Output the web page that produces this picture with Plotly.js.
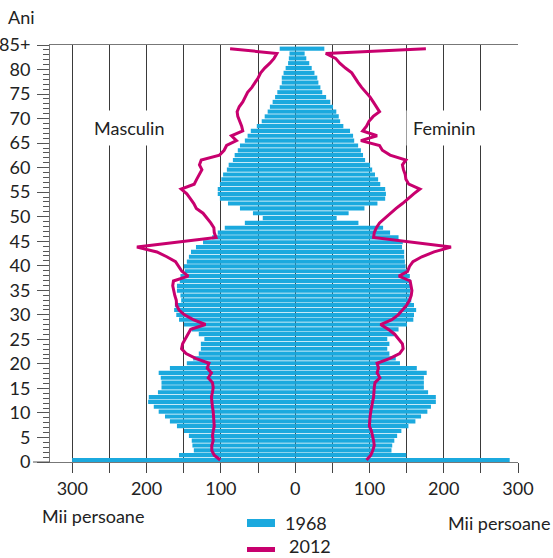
<!DOCTYPE html>
<html>
<head>
<meta charset="utf-8">
<script src="https://cdn.plot.ly/plotly-3.0.1.min.js"></script>
<style>html,body{margin:0;padding:0;background:#fff;}#chart{width:553px;height:558px;}</style>
</head>
<body>
<div id="chart"></div>
<script>
// Ages 0..85 (85 = 85+)
const ages = Array.from({length: 86}, (_, i) => i);
const ageTickLabels = ['0','5','10','15','20','25','30','35','40','45','50','55','60','65','70','75','80','85+'];
const ageTickAges = [0,5,10,15,20,25,30,35,40,45,50,55,60,65,70,75,80,85];

// 1968, thousands of persons
const male1968 = [300.2,156.3,136.4,138.3,139.2,143,149.6,159.1,168.6,175.2,
  183.7,190.3,197.9,197,184.7,179.9,179.9,180.9,183.7,168.6,
  145.8,137.3,129.7,126.9,126.9,122.2,129.7,139.2,149.6,156.3,
  160,162.9,161.9,153.4,154.4,159.1,159.1,155.3,154.4,148.7,
  149.6,145.8,143,140.2,133.5,124,111.7,104.2,94.7,67.7,
  43.6,56.8,74.3,90.4,101.3,104.2,104.2,101.3,99.4,97,
  91.9,89.5,83.8,81.4,77.2,74.3,67.7,64,59.7,51.6,
  45,41,37,34,30.3,27,24,20.8,18,18,
  15.6,12.8,9.5,8.5,7.6,20.8];
const female1968 = [288.8,149.6,129.7,130.7,133.5,137.3,143,152.5,161.9,169.5,
  178,182.8,189.4,189.4,179,173.3,173.3,173.3,177.1,163.8,
  141.1,135.4,126.9,124,126.9,124,133.5,139.2,150.6,159.1,
  160,162.9,160,156.3,154.4,155.3,156.3,155.3,154.4,152.5,
  148.7,147.7,146.8,146.8,143.9,144.9,139.2,127.8,118.4,85.2,
  55.9,72,93.3,110.8,121.2,122.2,121.2,114.6,111.7,107.5,
  103.7,100.9,94.2,91.4,88.5,84.8,79.5,78,73.9,64.9,
  60.6,58.7,55.4,51,47.3,41.7,36.5,34,31.3,29.8,
  26,22.3,19,15,12.8,39.3];

// 2012, thousands of persons
const male2012 = [100.9,108.9,112.2,112.2,110.3,111.3,110.3,108.9,109.4,109.4,
  110.3,111.3,112.2,112.7,111.3,110.3,111.3,117,112.7,118.4,
  116,134,146.8,152.9,151.5,148.2,144.4,140.6,120.7,137.3,
  149,156.3,159.6,160,162,163.4,164.8,163.8,143.9,152.5,
  156.3,161,172.8,186,213,161,106.5,108.9,109.4,113.6,
  119.3,124,133,136.4,141.1,145.8,153.4,135.9,132.6,128.8,
  125.5,128.8,126.4,101.8,95.6,92.3,79,85.7,70.5,72,
  74.3,77.2,78.1,75.3,70.5,67.2,64,58.2,53.5,49.7,
  46.4,41,34,28.4,24.6,87.6];
const female2012 = [96.1,101.8,104.6,106.5,105.6,104.2,102.7,99.9,100.9,100.9,
  101.8,102.7,104.2,105.6,105.6,106.5,107.5,114.1,110.3,112.2,
  110.3,127.8,140.6,145.4,144.4,139.7,134,125.5,115,130.2,
  138.7,144.4,150.1,153.9,156.3,157.2,156.3,154.8,139.7,151.5,
  153.9,158.6,170.5,187,209.8,158.6,105.6,106.5,109.4,113.6,
  120.7,127.8,135.9,144.4,151.5,159.6,168,153,149.1,148.2,
  145.8,144.4,149.1,127.8,117.4,113.6,88.5,110.3,90.9,96.1,
  99.4,105.1,113.6,108.9,105.1,100.9,94.7,89.5,84.8,80.5,
  76.2,67.7,60.1,54.5,41.2,176];

const xTickVals = [-300,-250,-200,-150,-100,-50,0,50,100,150,200,250,300];
const xTickText = ['300','','200','','100','','0','','100','','200','','300'];

const BLUE = '#1BA9DE';
const MAG = '#C8006E';
const FONT = 'Lato, "Open Sans", sans-serif';

// y mapping: tick labels sit slightly off bar centers in the original
const yLo = -0.41, yHi = 85.76;
const tickScale = (yHi - yLo) / 85;
const yTickVals = ageTickAges.map(a => yLo + a * tickScale);

const traces = [
  {type:'bar', orientation:'h', y: ages, x: male1968.map(v => -v), marker:{color:BLUE}, width:0.86, hoverinfo:'skip', showlegend:false},
  {type:'bar', orientation:'h', y: ages, x: female1968, marker:{color:BLUE}, width:0.86, hoverinfo:'skip', showlegend:false},
  {type:'scatter', mode:'lines', y: ages, x: male2012.map(v => -v), line:{color:MAG, width:3}, hoverinfo:'skip', showlegend:false},
  {type:'scatter', mode:'lines', y: ages, x: female2012, line:{color:MAG, width:3}, hoverinfo:'skip', showlegend:false}
];

const W = 553, H = 558, L = 50, R = 518, T = 45, B = 462;
const px = x => (x - L) / (R - L);
const py = y => (B - y) / (B - T);

const layout = {
  width: W, height: H,
  margin: {l: L, r: W - R, t: T, b: H - B, pad: 0},
  paper_bgcolor: '#fff', plot_bgcolor: '#fff',
  barmode: 'overlay',
  showlegend: false,
  font: {family: FONT, size: 18, color: '#222'},
  xaxis: {
    range: [-330, 300], tickmode:'array', tickvals: xTickVals, ticktext: xTickText,
    ticks: 'outside', ticklen: 10, tickcolor: '#444', tickwidth: 1,
    showgrid: true, gridcolor: '#3a3a3a', gridwidth: 1, zeroline: false,
    showline: true, linecolor: '#777', linewidth: 1, mirror: true,
    tickfont: {family: FONT, size: 18, color: '#222'}, fixedrange: true
  },
  yaxis: {
    range: [yLo, yHi], tickmode: 'array', tickvals: yTickVals, ticktext: ageTickLabels,
    ticks: 'outside', ticklen: 12, tickcolor: '#555', tickwidth: 1,
    minor: {tickmode: 'linear', tick0: yLo, dtick: tickScale, ticks: 'outside', ticklen: 6, tickcolor: '#555', showgrid: false},
    showgrid: false, zeroline: false,
    showline: true, linecolor: '#777', linewidth: 1,
    ticklabelstandoff: 3,
    tickfont: {family: FONT, size: 18, color: '#222'}, fixedrange: true
  },
  annotations: [
    {text: 'Ani', xref:'paper', yref:'paper', x: px(6), y: py(17), xanchor:'left', yanchor:'middle', showarrow:false, font:{family:FONT, size:18, color:'#222'}},
    {text: 'Masculin', xref:'x', yref:'paper', x: -223, y: py(128), xanchor:'center', yanchor:'middle', showarrow:false, bgcolor:'#fff', borderpad:6, font:{family:FONT, size:18, color:'#222'}},
    {text: 'Feminin', xref:'x', yref:'paper', x: 201, y: py(128), xanchor:'center', yanchor:'middle', showarrow:false, bgcolor:'#fff', borderpad:6, font:{family:FONT, size:18, color:'#222'}},
    {text: 'Mii persoane', xref:'paper', yref:'paper', x: px(40), y: py(516), xanchor:'left', yanchor:'middle', showarrow:false, font:{family:FONT, size:18, color:'#222'}},
    {text: 'Mii persoane', xref:'paper', yref:'paper', x: px(446), y: py(523), xanchor:'left', yanchor:'middle', showarrow:false, font:{family:FONT, size:18, color:'#222'}},
    {text: '1968', xref:'paper', yref:'paper', x: px(283), y: py(523), xanchor:'left', yanchor:'middle', showarrow:false, font:{family:FONT, size:18, color:'#222'}},
    {text: '2012', xref:'paper', yref:'paper', x: px(287), y: py(546), xanchor:'left', yanchor:'middle', showarrow:false, font:{family:FONT, size:18, color:'#222'}}
  ],
  shapes: [
    {type:'rect', xref:'paper', yref:'paper', x0: px(247), x1: px(275), y0: py(519), y1: py(527), fillcolor: BLUE, line:{width:0}},
    {type:'rect', xref:'paper', yref:'paper', x0: px(247), x1: px(275), y0: py(547), y1: py(552), fillcolor: MAG, line:{width:0}},
    {type:'line', xref:'paper', yref:'paper', x0: px(33), x1: px(50), y0: 0, y1: 0, line:{color:'#555', width:1}}
  ]
};

Plotly.newPlot('chart', traces, layout, {displayModeBar: false, staticPlot: true});
</script>
</body>
</html>
